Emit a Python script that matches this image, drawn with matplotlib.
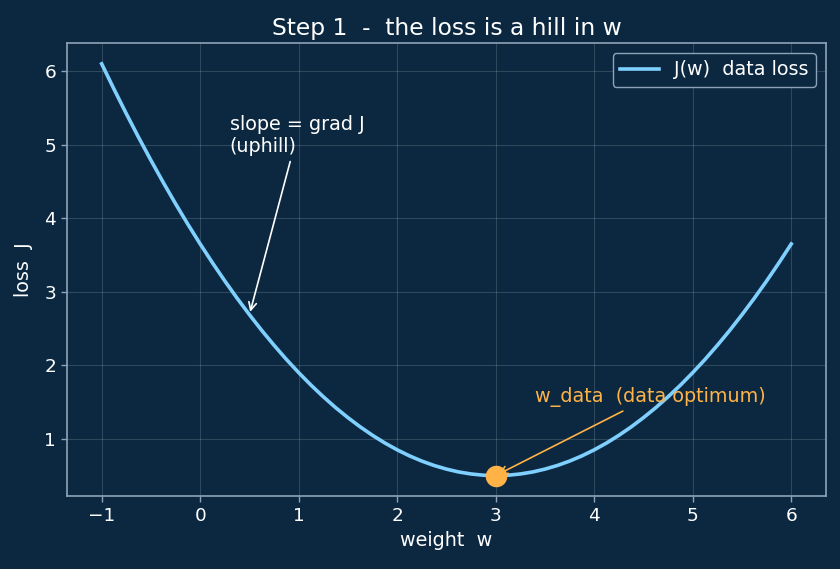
import matplotlib.pyplot as plt
import numpy as np

BG = '#0b2840'
FG = '#ffffff'
SPINE = '#8fa3b8'
CURVE = '#7fd0ff'
ORANGE = '#ffb347'

# loss curve, w from -1 to 6 in steps of 0.125
w_vals = np.linspace(-1, 6, 57)
j_vals = [6.100, 5.756, 5.422, 5.099, 4.788, 4.487, 4.197, 3.918, 3.650, 3.393,
          3.147, 2.912, 2.688, 2.474, 2.272, 2.080, 1.900, 1.730, 1.572, 1.424,
          1.288, 1.162, 1.047, 0.943, 0.850, 0.768, 0.697, 0.637, 0.588, 0.549,
          0.522, 0.505, 0.500,
          0.505, 0.522, 0.549, 0.588, 0.637, 0.697, 0.768, 0.850, 0.943, 1.047,
          1.162, 1.288, 1.424, 1.572, 1.730, 1.900, 2.080, 2.272, 2.474, 2.688,
          2.912, 3.147, 3.393, 3.650]

w_opt = 3.0
j_opt = 0.50
slope_point = (0.5, 2.69)

plt.rcParams['text.color'] = FG
plt.rcParams['axes.labelcolor'] = FG
plt.rcParams['xtick.color'] = FG
plt.rcParams['ytick.color'] = FG

fig = plt.figure(figsize=(8.4, 5.69), dpi=100, facecolor=BG)
ax = fig.add_subplot(111)
ax.set_facecolor(BG)

ax.plot(w_vals, j_vals, color=CURVE, lw=2.6, label='J(w)  data loss',
        solid_joinstyle='round')
ax.plot([w_opt], [j_opt], 'o', color=ORANGE, ms=14.5, zorder=5)

ax.annotate('slope = grad J\n(uphill)', xy=slope_point, xytext=(0.3, 4.9),
            color=FG, fontsize=13.8,
            arrowprops=dict(arrowstyle='->', color=FG, lw=1.2))
ax.annotate('w_data  (data optimum)', xy=(w_opt, j_opt), xytext=(3.4, 1.5),
            color=ORANGE, fontsize=13.8,
            arrowprops=dict(arrowstyle='->', color=ORANGE, lw=1.2))

ax.set_title('Step 1  -  the loss is a hill in w', color=FG, fontsize=16.8, pad=6)
ax.set_xlabel('weight  w', fontsize=13.8)
ax.set_ylabel('loss  J', fontsize=13.8, labelpad=8)
ax.tick_params(axis='both', labelsize=13.3, color=SPINE, length=4.5, width=1)

ax.grid(color='#ffffff', alpha=0.15, lw=0.8)
for spine in ax.spines.values():
    spine.set_color(SPINE)
    spine.set_linewidth(1.2)

legend = ax.legend(loc='upper right', fontsize=13.8, facecolor=BG, edgecolor=SPINE,
                   framealpha=1)
for t in legend.get_texts():
    t.set_color(FG)

fig.subplots_adjust(left=0.080, right=0.983, top=0.924, bottom=0.128)
plt.savefig('out.png', facecolor=BG)
